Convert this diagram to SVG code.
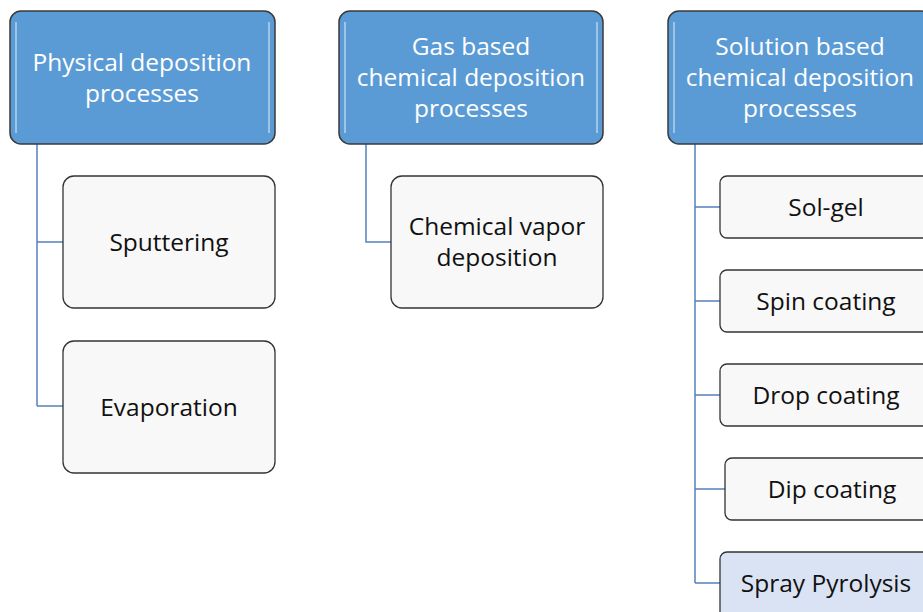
<svg xmlns="http://www.w3.org/2000/svg" width="923" height="612" viewBox="0 0 923 612">
<style>
.hdr rect{fill:#5b9bd5;stroke:#3a3a3a;stroke-width:1.5}
.hdr text{fill:#ffffff}
.ch rect{fill:#f8f8f8;stroke:#333333;stroke-width:1.3}
.hl rect{fill:#dae3f3}
text{font-family:"Open Sans","Liberation Sans",sans-serif;font-size:24.5px;text-anchor:middle;fill:#111}
.conn path{fill:none;stroke:#5581bd;stroke-width:1.5}
.gl{stroke:#ffffff;stroke-width:1.5;opacity:0.55}
</style>
<rect width="923" height="612" fill="#ffffff"/>
<g class="conn">
<path d="M37 144V406M37 242H63M37 406H63"/>
<path d="M366 144V242H391"/>
<path d="M695 144V583M695 207H720M695 301H720M695 395H720M695 489H725M695 583H720"/>
</g>
<g id="h1" class="hdr"><rect x="10" y="11" width="265" height="133" rx="11"/><line class="gl" x1="16" y1="22" x2="16" y2="133"/><line class="gl" x1="269" y1="22" x2="269" y2="133"/><text x="142" y="71">Physical deposition</text><text x="142" y="102">processes</text></g>
<g id="h2" class="hdr"><rect x="339" y="11" width="264" height="133" rx="11"/><line class="gl" x1="345" y1="22" x2="345" y2="133"/><line class="gl" x1="597" y1="22" x2="597" y2="133"/><text x="471" y="55">Gas based</text><text x="471" y="86">chemical deposition</text><text x="471" y="117">processes</text></g>
<g id="h3" class="hdr"><rect x="668" y="11" width="264" height="133" rx="11"/><line class="gl" x1="674" y1="22" x2="674" y2="133"/><text x="800" y="55">Solution based</text><text x="800" y="86">chemical deposition</text><text x="800" y="117">processes</text></g>
<g id="sputtering" class="ch"><rect x="63" y="176" width="212" height="132" rx="11"/><text x="169" y="251">Sputtering</text></g>
<g id="evaporation" class="ch"><rect x="63" y="341" width="212" height="132" rx="11"/><text x="169" y="416">Evaporation</text></g>
<g id="cvd" class="ch"><rect x="391" y="176" width="212" height="132" rx="11"/><text x="497" y="235">Chemical vapor</text><text x="497" y="266">deposition</text></g>
<g id="solgel" class="ch"><rect x="720" y="176" width="210" height="62" rx="7"/><text x="826" y="216">Sol-gel</text></g>
<g id="spin" class="ch"><rect x="720" y="270" width="210" height="62" rx="7"/><text x="826" y="310">Spin coating</text></g>
<g id="drop" class="ch"><rect x="720" y="364" width="210" height="62" rx="7"/><text x="826" y="404">Drop coating</text></g>
<g id="dip" class="ch"><rect x="725" y="458" width="205" height="62" rx="7"/><text x="832" y="498">Dip coating</text></g>
<g id="spray" class="ch hl"><rect x="720" y="552" width="210" height="70" rx="7"/><text x="826" y="592">Spray Pyrolysis</text></g>
</svg>
